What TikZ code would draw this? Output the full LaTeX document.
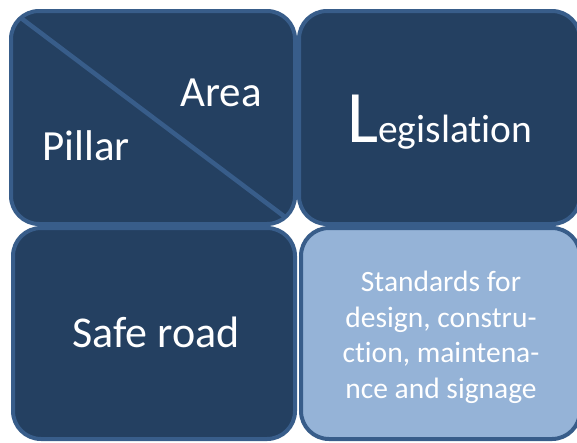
\documentclass[tikz,border=0pt]{standalone}
\usepackage{fontspec}
\setmainfont{Carlito}[Ligatures=NoCommon]
\definecolor{darkfill}{HTML}{244061}
\definecolor{edge}{HTML}{385D8A}
\definecolor{lightfill}{HTML}{95B3D7}
\tikzset{
  cell/.style={draw=edge, line width=4pt, rounded corners=28pt},
  darkcell/.style={cell, fill=darkfill},
  lightcell/.style={cell, fill=lightfill},
  lbl/.style={text=white, anchor=base, inner sep=0pt},
}
\begin{document}
\begin{tikzpicture}[x=1pt,y=-1pt]
\useasboundingbox (0,0) rectangle (577,442);
\clip (0,0) rectangle (577,442);
% top-left with diagonal
\fill[darkfill, rounded corners=28pt] (11,11) rectangle (295,224);
\begin{scope}
  \clip[rounded corners=28pt] (11,11) rectangle (295,224);
  \coordinate (dA) at (9,9);
  \coordinate (dB) at (297,226);
  \draw[edge, line width=4.5pt] (dA) -- (dB);
\end{scope}
\draw[cell] (11,11) rectangle (295,224);
% other cells
\draw[darkcell] (299,11) rectangle (580,224);
\draw[darkcell] (13,228) rectangle (295,439);
\draw[lightcell] (301,228) rectangle (580,439);
% texts
\node[lbl, font=\fontsize{43}{50}\selectfont] (area) at (221,106) {Area};
\node[lbl, font=\fontsize{43}{50}\selectfont] (pillar) at (86,160) {Pillar};
\node[lbl, anchor=base west] (legis) at (347,142) {\fontsize{74}{80}\selectfont L\fontsize{39.5}{46}\selectfont egislation};
\node[lbl, font=\fontsize{44}{50}\selectfont] (safe) at (156,347) {Safe road};
\node[lbl, align=center, anchor=base, font=\fontsize{29.5}{35.5}\selectfont] (std) at (441,398)
  {Standards for\\design, constru-\\ction, maintena-\\nce and signage};
\end{tikzpicture}
\end{document}
